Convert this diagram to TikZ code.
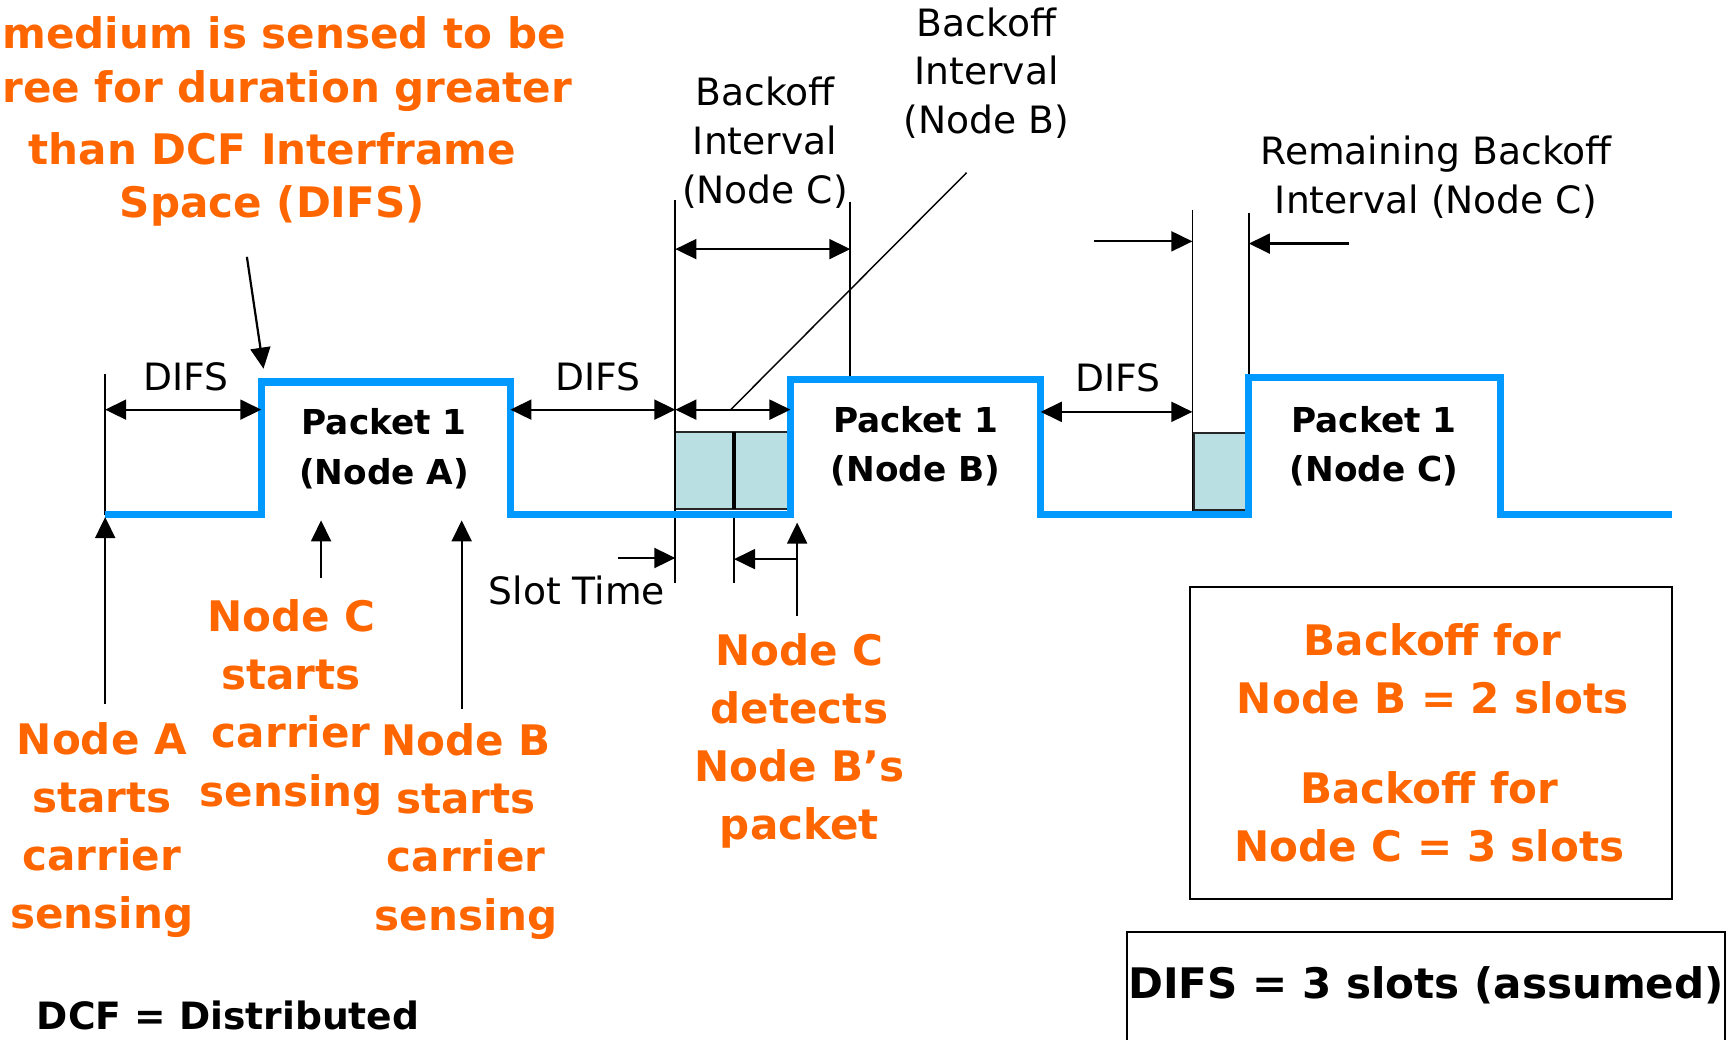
\documentclass[tikz,border=0pt]{standalone}
\usepackage{fontspec}
\setmainfont{DejaVu Sans}
\usetikzlibrary{arrows.meta}

\definecolor{signal}{HTML}{0099FF}
\definecolor{callout}{HTML}{FF6600}
\definecolor{slotfill}{HTML}{B9DFE3}

\tikzset{
  lbl/.style={inner sep=0pt, font=\fontsize{34}{44}\selectfont, align=center},
  note/.style={inner sep=0pt, text=callout, font=\fontsize{38}{52.5}\selectfont\bfseries, align=center},
  pkt/.style={inner sep=0pt, font=\fontsize{31}{45}\selectfont\bfseries, align=center},
  sig/.style={draw=signal, line width=6.5pt, line join=miter},
  tip/.tip={Triangle[length=19pt,width=18pt]},
  dimarrow/.style={line width=2pt, tip-tip},
  ptr/.style={line width=2pt, -tip},
  guide/.style={line width=1.6pt},
  slotbox/.style={draw=black!85, line width=2pt, fill=slotfill},
  panel/.style={draw=black, line width=1.6pt},
}

\begin{document}
\begin{tikzpicture}[x=1pt,y=-1pt]
\fill[white] (0,0) rectangle (1568,939);
\useasboundingbox (0,0) rectangle (1568,939);

% ---- key points of the time line ----
\coordinate (s0) at (95,465);
\coordinate (aUp) at (236,465);   \coordinate (aTop) at (236,345);
\coordinate (aEnd) at (461,345);  \coordinate (aDown) at (461,465);
\coordinate (bUp) at (714,465);   \coordinate (bTop) at (714,343);
\coordinate (bEnd) at (940,343);  \coordinate (bDown) at (940,465);
\coordinate (cUp) at (1128,465);  \coordinate (cTop) at (1128,341);
\coordinate (cEnd) at (1355,341); \coordinate (cDown) at (1355,465);
\coordinate (sEnd) at (1510,465);

% ---- backoff slots ----
\path[slotbox] (610,390) rectangle (663,460);
\path[slotbox] (663,390) rectangle (712,460);
\draw[line width=3pt] (663,390) -- (663,460);
\path[slotbox] (1078,391) rectangle (1126,461);

% ---- guide lines ----
\coordinate (g0t) at (95,338);
\coordinate (gLt) at (610,181);  \coordinate (gLb) at (610,527);
\coordinate (gMt) at (663,462);  \coordinate (gMb) at (663,527);
\coordinate (gRt) at (768,182);  \coordinate (gRb) at (768,343);
\coordinate (gC1t) at (1077,190); \coordinate (gC1b) at (1077,462);
\coordinate (gC2t) at (1128,192); \coordinate (gC2b) at (1128,341);
\draw[guide] (g0t) -- (s0);
\draw[guide] (gLt) -- (gLb);
\draw[guide] (gMt) -- (gMb);
\draw[guide] (gRt) -- (gRb);
\draw[guide] (gC1t) -- (gC1b);
\draw[guide] (gC2t) -- (gC2b);

% ---- medium signal ----
\draw[sig] (s0) -- (aUp) -- (aTop) -- (aEnd) -- (aDown) -- (bUp) -- (bTop)
  -- (bEnd) -- (bDown) -- (cUp) -- (cTop) -- (cEnd) -- (cDown) -- (sEnd);

% ---- packet labels ----
\node[pkt] (pA) at (347,405) {Packet 1\\(Node A)};
\node[pkt] (pB) at (827,403) {Packet 1\\(Node B)};
\node[pkt] (pC) at (1241,403) {Packet 1\\(Node C)};

% ---- interval labels ----
\node[lbl] (d1) at (168,340) {DIFS};
\node[lbl] (d2) at (540,340) {DIFS};
\node[lbl] (d3) at (1010,341) {DIFS};
\node[lbl] (bkC) at (691,129) {Backoff\\Interval\\(Node C)};
\node[lbl] (bkB) at (891,66) {Backoff\\Interval\\(Node B)};
\node[lbl] (rem) at (1297,160) {Remaining Backoff\\Interval (Node C)};
\node[lbl] (slot) at (521,533) {Slot Time};

% ---- interval arrows ----
\coordinate (d1a) at (95,370);   \coordinate (d1b) at (236,370);
\coordinate (d2a) at (461,370);  \coordinate (d2b) at (610,370);
\coordinate (bBa) at (610,370);  \coordinate (bBb) at (714,370);
\coordinate (d3a) at (940,372);  \coordinate (d3b) at (1077,372);
\coordinate (bCa) at (610,225);  \coordinate (bCb) at (768,225);
\draw[dimarrow] (d1a) -- (d1b);
\draw[dimarrow] (d2a) -- (d2b);
\draw[dimarrow] (bBa) -- (bBb);
\draw[dimarrow] (d3a) -- (d3b);
\draw[dimarrow] (bCa) -- (bCb);

% leader from the Node B backoff label
\coordinate (bkBfoot) at (660,370);
\coordinate (bkBhead) at (873,156);
\draw[line width=1.3pt] (bkBhead) -- (bkBfoot);

% remaining backoff pointers
\coordinate (r1a) at (988,218);  \coordinate (r1b) at (1077,218);
\coordinate (r2a) at (1218,220); \coordinate (r2b) at (1128,220);
\draw[ptr] (r1a) -- (r1b);
\draw[ptr] (r2a) -- (r2b);

% slot time pointers
\coordinate (st1a) at (558,504); \coordinate (st1b) at (610,504);
\coordinate (st2a) at (720,505); \coordinate (st2b) at (663,505);
\draw[ptr] (st1a) -- (st1b);
\draw[ptr] (st2a) -- (st2b);

% ---- event notes ----
\node[note, anchor=west] (topnote1) at (2,30) {medium is sensed to be};
\node[note, anchor=west] (topnote2) at (2,82) {ree for duration greater};
\node[note] (topnote3) at (246,134) {than DCF Interframe};
\node[note] (topnote4) at (246,186) {Space (DIFS)};

\node[note] (nA) at (92,750) {Node A\\starts\\carrier\\sensing};
\node[note] (nC) at (263,639) {Node C\\starts\\carrier\\sensing};
\node[note] (nB) at (421,751) {Node B\\starts\\carrier\\sensing};
\node[note] (nD) at (722,669) {Node C\\detects\\Node B’s\\packet};

\coordinate (medA) at (223,232); \coordinate (medB) at (238,333);
\draw[ptr] (medA) -- (medB);
\coordinate (nAa) at (95,636);  \coordinate (nAb) at (95,467);
\draw[ptr] (nAa) -- (nAb);
\coordinate (nCa) at (290,522); \coordinate (nCb) at (290,470);
\draw[ptr] (nCa) -- (nCb);
\coordinate (nBa) at (417,640); \coordinate (nBb) at (417,470);
\draw[ptr] (nBa) -- (nBb);
\coordinate (nDa) at (720,556); \coordinate (nDb) at (720,472);
\draw[ptr] (nDa) -- (nDb);

% ---- summary panels ----
\draw[panel] (1075,530) rectangle (1510,812);
\node[note] (sumB) at (1294,604) {Backoff for\\Node B = 2 slots};
\node[note] (sumC) at (1291,738) {Backoff for\\Node C = 3 slots};

\draw[panel] (1018,945) -- (1018,842) -- (1558,842) -- (1558,945);
\node[inner sep=0pt, font=\fontsize{38}{46}\selectfont\bfseries] (difs) at (1288,890) {DIFS = 3 slots (assumed)};

\node[inner sep=0pt, anchor=west, font=\fontsize{34}{42}\selectfont\bfseries] (dcf) at (33,917) {DCF = Distributed};
\end{tikzpicture}
\end{document}
